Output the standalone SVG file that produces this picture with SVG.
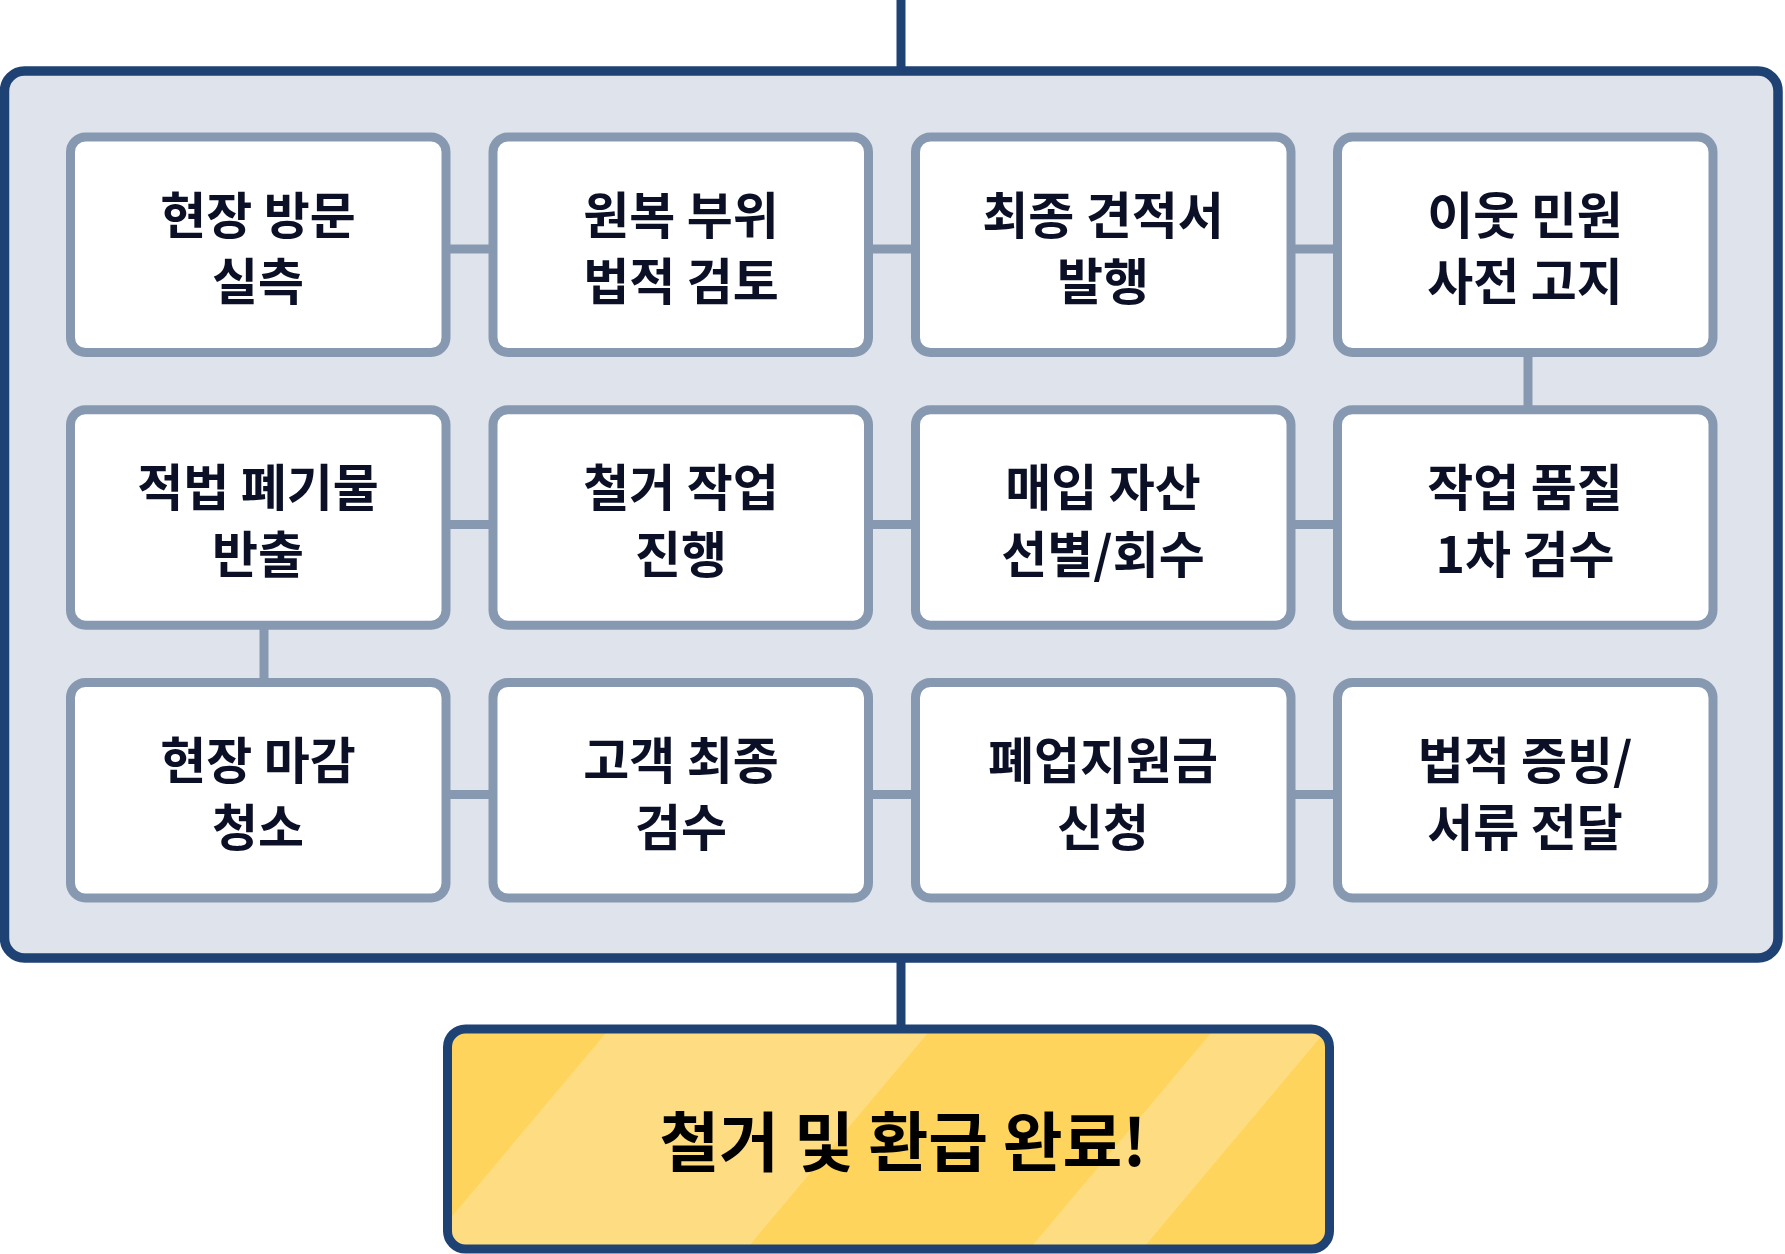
<svg xmlns="http://www.w3.org/2000/svg" width="1785" height="1254" viewBox="0 0 1785 1254">
  <style>
    .node rect { fill: #FFFFFF; stroke: #8799B1; stroke-width: 9; }
    .node text { font-family: "Noto Sans CJK KR", "Noto Sans", sans-serif; font-weight: 700; font-size: 50px; fill: #0B1026; text-anchor: middle; }
    .conn { stroke: #8799B1; stroke-width: 9; fill: none; }
    .main { stroke: #1F4274; stroke-width: 9; fill: none; }
    .final text { font-family: "Noto Sans CJK KR", "Noto Sans", sans-serif; font-weight: 700; font-size: 65px; fill: #000000; text-anchor: middle; }
  </style>
  <defs>
    <clipPath id="finalClip">
      <rect x="447.5" y="1029" width="882" height="220" rx="18"/>
    </clipPath>
  </defs>

  <g id="container">
    <rect x="4.5" y="71" width="1773.5" height="887" rx="20" fill="#DFE3EC" stroke="#1F4274" stroke-width="9.5"/>
  </g>

  <g id="connectors">
    <line class="main" x1="901" y1="0" x2="901" y2="68"/>
    <line class="main" x1="901" y1="960" x2="901" y2="1027"/>
    <line class="conn" x1="446" y1="249" x2="493" y2="249"/>
    <line class="conn" x1="868.5" y1="249" x2="915.5" y2="249"/>
    <line class="conn" x1="1290.5" y1="249" x2="1337.5" y2="249"/>
    <line class="conn" x1="1528" y1="352" x2="1528" y2="410"/>
    <line class="conn" x1="446" y1="524.5" x2="493" y2="524.5"/>
    <line class="conn" x1="868.5" y1="524.5" x2="915.5" y2="524.5"/>
    <line class="conn" x1="1290.5" y1="524.5" x2="1337.5" y2="524.5"/>
    <line class="conn" x1="264" y1="624" x2="264" y2="683"/>
    <line class="conn" x1="446" y1="794.5" x2="493" y2="794.5"/>
    <line class="conn" x1="868.5" y1="794.5" x2="915.5" y2="794.5"/>
    <line class="conn" x1="1290.5" y1="794.5" x2="1337.5" y2="794.5"/>
  </g>

  <g id="n1" class="node">
    <rect x="70.5" y="137" width="375.5" height="215.5" rx="15"/>
    <text x="258" y="233.5">현장 방문</text>
    <text x="258" y="300">실측</text>
  </g>
  <g id="n2" class="node">
    <rect x="493" y="137" width="375.5" height="215.5" rx="15"/>
    <text x="681" y="233.5">원복 부위</text>
    <text x="681" y="300">법적 검토</text>
  </g>
  <g id="n3" class="node">
    <rect x="915.5" y="137" width="375.5" height="215.5" rx="15"/>
    <text x="1103" y="233.5">최종 견적서</text>
    <text x="1103" y="300">발행</text>
  </g>
  <g id="n4" class="node">
    <rect x="1337.5" y="137" width="375.5" height="215.5" rx="15"/>
    <text x="1525" y="233.5">이웃 민원</text>
    <text x="1525" y="300">사전 고지</text>
  </g>

  <g id="n5" class="node">
    <rect x="70.5" y="409.7" width="375.5" height="215.5" rx="15"/>
    <text x="258" y="506.2">적법 폐기물</text>
    <text x="258" y="572.7">반출</text>
  </g>
  <g id="n6" class="node">
    <rect x="493" y="409.7" width="375.5" height="215.5" rx="15"/>
    <text x="681" y="506.2">철거 작업</text>
    <text x="681" y="572.7">진행</text>
  </g>
  <g id="n7" class="node">
    <rect x="915.5" y="409.7" width="375.5" height="215.5" rx="15"/>
    <text x="1103" y="506.2">매입 자산</text>
    <text x="1103" y="572.7">선별/회수</text>
  </g>
  <g id="n8" class="node">
    <rect x="1337.5" y="409.7" width="375.5" height="215.5" rx="15"/>
    <text x="1525" y="506.2">작업 품질</text>
    <text x="1525" y="572.7">1차 검수</text>
  </g>

  <g id="n9" class="node">
    <rect x="70.5" y="682.5" width="375.5" height="215.5" rx="15"/>
    <text x="258" y="779">현장 마감</text>
    <text x="258" y="845.5">청소</text>
  </g>
  <g id="n10" class="node">
    <rect x="493" y="682.5" width="375.5" height="215.5" rx="15"/>
    <text x="681" y="779">고객 최종</text>
    <text x="681" y="845.5">검수</text>
  </g>
  <g id="n11" class="node">
    <rect x="915.5" y="682.5" width="375.5" height="215.5" rx="15"/>
    <text x="1103" y="779">폐업지원금</text>
    <text x="1103" y="845.5">신청</text>
  </g>
  <g id="n12" class="node">
    <rect x="1337.5" y="682.5" width="375.5" height="215.5" rx="15"/>
    <text x="1525" y="779">법적 증빙/</text>
    <text x="1525" y="845.5">서류 전달</text>
  </g>

  <g id="final" class="final">
    <g clip-path="url(#finalClip)">
      <rect x="440" y="1020" width="900" height="240" fill="#FFD45C"/>
      <polygon points="616.8,1020 938.8,1020 737.2,1260 415.2,1260" fill="#FEDD82"/>
      <polygon points="1221.8,1020 1334.8,1020 1133.2,1260 1020.2,1260" fill="#FEDD82"/>
    </g>
    <rect x="447.5" y="1029" width="882" height="220" rx="18" fill="none" stroke="#1F4274" stroke-width="9"/>
    <text x="903" y="1166">철거 및 환급 완료!</text>
  </g>
</svg>
